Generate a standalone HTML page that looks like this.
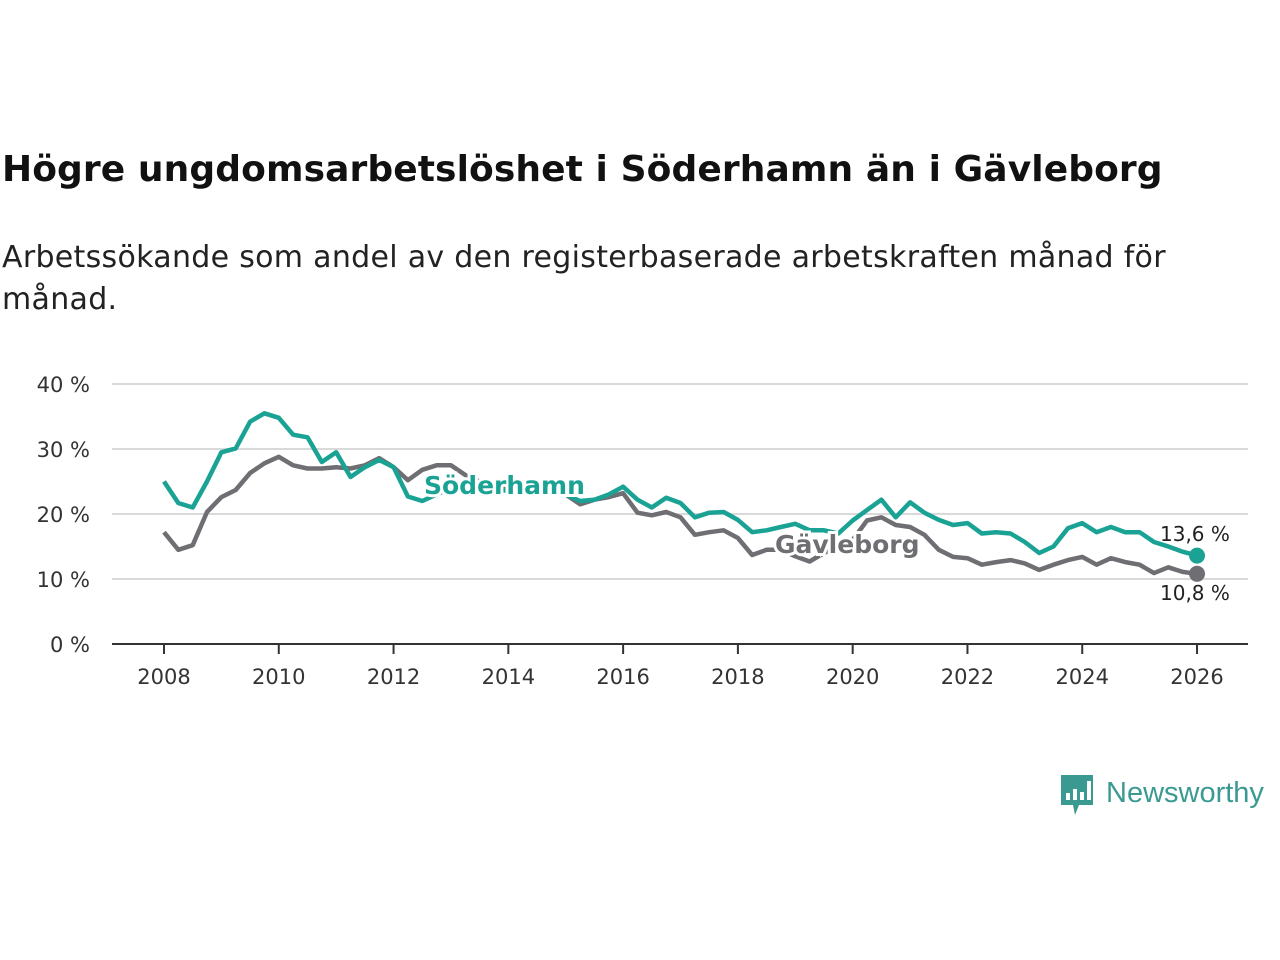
<!DOCTYPE html>
<html><head><meta charset="utf-8">
<style>
body{margin:0;background:#fff;width:1280px;height:960px;overflow:hidden;font-family:"DejaVu Sans","Liberation Sans",sans-serif;}
#title{position:absolute;left:2px;top:149px;font-size:36px;font-weight:bold;color:#111;margin:0;white-space:nowrap;letter-spacing:0.1px}
#sub{position:absolute;left:2px;top:237px;font-size:30px;color:#222;line-height:42px;width:1260px;margin:0;white-space:nowrap;letter-spacing:0.3px}
svg{position:absolute;left:0;top:0;font-family:"DejaVu Sans","Liberation Sans",sans-serif}
</style></head><body>
<h1 id="title">Högre ungdomsarbetslöshet i Söderhamn än i Gävleborg</h1>
<p id="sub">Arbetssökande som andel av den registerbaserade arbetskraften månad för<br>månad.</p>
<svg id="chart" width="1280" height="960"></svg>
<script>
const startYear = 2008;
const stepYears = 0.25;
const soderhamn = [25,21.7,21,25, 29.5,30.1,34.2,35.5, 34.8,32.2,31.8,28, 29.5,25.7,27.2,28.3, 27.2,22.7,22,23, 24,24.5,24,24, 23.5,24,23.5,23, 23,22,22.2,23, 24.2,22.2,21,22.5, 21.7,19.5,20.2,20.3, 19.1,17.2,17.5,18, 18.5,17.5,17.5,17, 19,20.6,22.2,19.5, 21.8,20.2,19.1,18.3, 18.6,17,17.2,17, 15.7,14,15,17.8, 18.6,17.2,18,17.2, 17.2,15.7,15,14.2, 13.6];
const gavleborg = [17.2,14.5,15.2,20.3, 22.6,23.7,26.3,27.8, 28.8,27.5,27,27, 27.2,27,27.5,28.6, 27.2,25.2,26.8,27.5, 27.5,26,25,24, 24,24.5,23.5,23, 23,21.5,22.2,22.6, 23.2,20.2,19.8,20.3, 19.5,16.8,17.2,17.5, 16.3,13.7,14.5,14.5, 13.5,12.7,14,15, 16,19,19.5,18.3, 18,16.8,14.5,13.4, 13.2,12.2,12.6,12.9, 12.4,11.4,12.2,12.9, 13.4,12.2,13.2,12.6, 12.2,10.9,11.8,11.1, 10.8];
const yTicks = [0,10,20,30,40];
const xTicks = [2008,2010,2012,2014,2016,2018,2020,2022,2024,2026];
const endLabels = ["13,6 %","10,8 %"];

const NS="http://www.w3.org/2000/svg";
const svg=document.getElementById('chart');
const x=y=>164+(y-2008)*57.39;
const yv=v=>644-v*6.5;
function mk(t,a,p){const e=document.createElementNS(NS,t);for(const k in a)e.setAttribute(k,a[k]);(p||svg).appendChild(e);return e;}
yTicks.forEach(t=>{
  const l=mk('line',{x1:112,x2:1248,y1:yv(t),y2:yv(t),stroke:t===0?'#333':'#d9d9d9','stroke-width':2});
  
  
  const tx=mk('text',{x:90,y:yv(t)+8,'text-anchor':'end','font-size':21,fill:'#333'});
  tx.textContent=t+' %';
  
  
});
xTicks.forEach(t=>{
  const l=mk('line',{x1:x(t),x2:x(t),y1:645,y2:654,stroke:'#333','stroke-width':2});
  
  
  const tx=mk('text',{x:x(t),y:684,'text-anchor':'middle','font-size':21,fill:'#333'});
  tx.textContent=t;
  
  
});
function line(d,c,name){
  const pts=d.map((v,i)=>x(startYear+i*stepYears).toFixed(1)+','+yv(v).toFixed(1)).join(' ');
  const p=mk('polyline',{points:pts,fill:'none',stroke:c,'stroke-width':4.5,'stroke-linejoin':'round'});
  
  
  const last=d.length-1;
  const c2=mk('circle',{cx:x(startYear+last*stepYears),cy:yv(d[last]),r:8,fill:c});
  
  
}
line(gavleborg,'#6f6e73','gavleborg-line');
line(soderhamn,'#1aa394','soderhamn-line');
function lab(t,xx,yy,c,name){
  const e=mk('text',{x:xx,y:yy,'font-size':25,'font-weight':'bold',fill:c,stroke:'#fff','stroke-width':6,'paint-order':'stroke'});
  e.textContent=t;
  
  
}
lab('Söderhamn',424,494,'#1aa394','soderhamn-label');
lab('Gävleborg',775,553,'#6f6e73','gavleborg-label');
[[endLabels[0],541,'end-label-soderhamn'],[endLabels[1],600,'end-label-gavleborg']].forEach(a=>{
  const e=mk('text',{x:1160,y:a[1],'font-size':20,fill:'#222'});
  e.textContent=a[0];
  
  
});
const g=mk('g',{});


mk('path',{d:'M1061 775 h32 v30 h-14 l-4 10 l-2 -10 h-12 z',fill:'#3a9a92'},g);
mk('rect',{x:1066,y:793,width:4,height:7,fill:'#fff'},g);
mk('rect',{x:1073,y:789,width:4,height:11,fill:'#fff'},g);
mk('rect',{x:1080,y:792,width:4,height:8,fill:'#fff'},g);
mk('rect',{x:1087,y:781,width:4,height:19,fill:'#fff'},g);
const lt=mk('text',{x:1106,y:802,'font-size':29,fill:'#3a9a92','font-family':'Liberation Sans, sans-serif'},g);
lt.textContent='Newsworthy';
</script>
</body></html>
